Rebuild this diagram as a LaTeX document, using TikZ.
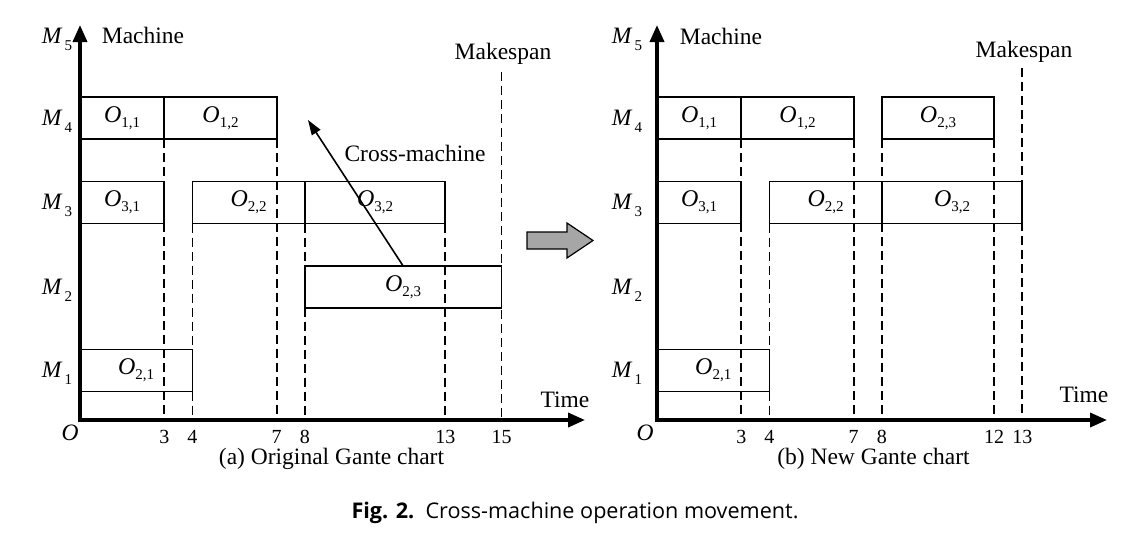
\documentclass[tikz,border=0pt]{standalone}
\usepackage{fontspec}
\setmainfont{Liberation Serif}
\newfontfamily\capfont{Open Sans}
\usetikzlibrary{arrows.meta}
\newcommand\opx[1]{\textit{O}\raisebox{-5pt}{\fontsize{15}{15}\selectfont #1}}
\newcommand\mx[1]{\textit{M}\kern2pt\raisebox{-7pt}{\fontsize{15}{15}\selectfont #1}}
\newcommand\opbx[5]{\node[opbox, minimum width={(#3-#2)*28.1pt}] (#1) at ({(#2+#3)/2*28.1}, #4) {\opx{#5}};}
\begin{document}
\begin{tikzpicture}[x=1pt,y=-1pt,
  opbox/.style={draw, line width=1.8pt, minimum height=42pt, inner sep=0pt, outer sep=0pt, font=\fontsize{24}{28}\selectfont},
  dashln/.style={line width=1.8pt, dash pattern=on 9pt off 5pt},
  axisln/.style={line width=3.6pt, {Triangle[length=17pt,width=14pt]}-{Triangle[length=17pt,width=14pt]}},
  lbl/.style={font=\fontsize{23.5}{28}\selectfont, inner sep=0pt},
  ticklbl/.style={font=\fontsize{20}{24}\selectfont, inner sep=0pt},
  movearrow/.style={line width=1.6pt, -{Triangle[length=15pt,width=10pt]}},
]
\useasboundingbox (0,0) rectangle (1126,541);

% ---------------- Left chart ----------------
\begin{scope}[xshift=80pt]
  \coordinate (LO) at (0,420);
  \coordinate (LY) at (0,25);
  \coordinate (LX) at (505,420);
  \foreach \t in {3,4,7,8,13,15} {
    \coordinate (Lt\t) at ({\t*28.1},420);
    \node[ticklbl] (Ltl\t) at ({\t*28.1},437) {\t};
  }
  \coordinate (Lms) at ({15*28.1},72);

  \opbx{L11}{0}{3}{118}{1,1}
  \opbx{L12}{3}{7}{118}{1,2}
  \opbx{L31}{0}{3}{202.5}{3,1}
  \opbx{L22}{4}{8}{202.5}{2,2}
  \opbx{L32}{8}{13}{202.5}{3,2}
  \opbx{L23}{8}{15}{287}{2,3}
  \opbx{L21}{0}{4}{370.5}{2,1}

  \draw[dashln] (L11.south east) -- (Lt3);
  \draw[dashln] (L22.north west) -- (Lt4);
  \draw[dashln] (L12.south east) -- (Lt7);
  \draw[dashln] (L32.south west) -- (Lt8);
  \draw[dashln] (L32.south east) -- (Lt13);
  \draw[dashln] (Lms) -- (Lt15);

  \draw[axisln] (LY) -- (LO) -- (LX);

  \node[lbl] (LM5) at (-23,39) {\mx{5}};
  \node[lbl] (LM4) at (-23,121) {\mx{4}};
  \node[lbl] (LM3) at (-23,205) {\mx{3}};
  \node[lbl] (LM2) at (-23,290) {\mx{2}};
  \node[lbl] (LM1) at (-23,373) {\mx{1}};
  \node[lbl] (LOr) at (-10,433) {\textit{O}};
  \node[lbl] (Lmach) at (63,35) {Machine};
  \node[lbl] (Ltime) at (485,400) {Time};
  \node[lbl] (Lmk) at (423,54) {Makespan};
  \coordinate (Ltip) at (228,120);
  \draw[movearrow] (L23.north) -- (Ltip);
  \node[lbl] (Lcross) at (335,153) {Cross-machine};
  \node[lbl] (Lcap) at (251.5,459) {(a) Original Gante chart};
\end{scope}

% ---------------- Transition arrow ----------------
\draw[line width=1.2pt, fill=black!35]
  (527,232) -- (567,232) -- (567,223) -- (593,240.5) -- (567,258) -- (567,249) -- (527,249) -- cycle;

% ---------------- Right chart ----------------
\begin{scope}[xshift=657pt]
  \coordinate (RO) at (0,420);
  \coordinate (RY) at (0,25);
  \coordinate (RX) at (450,420);
  \foreach \t in {3,4,7,8,12,13} {
    \coordinate (Rt\t) at ({\t*28.1},420);
    \node[ticklbl] (Rtl\t) at ({\t*28.1},437) {\t};
  }
  \coordinate (Rms) at ({13*28.1},68);

  \opbx{R11}{0}{3}{118}{1,1}
  \opbx{R12}{3}{7}{118}{1,2}
  \opbx{R23}{8}{12}{118}{2,3}
  \opbx{R31}{0}{3}{202.5}{3,1}
  \opbx{R22}{4}{8}{202.5}{2,2}
  \opbx{R32}{8}{13}{202.5}{3,2}
  \opbx{R21}{0}{4}{370.5}{2,1}

  \draw[dashln] (R11.south east) -- (Rt3);
  \draw[dashln] (R22.north west) -- (Rt4);
  \draw[dashln] (R12.south east) -- (Rt7);
  \draw[dashln] (R23.south west) -- (Rt8);
  \draw[dashln] (R23.south east) -- (Rt12);
  \draw[dashln] (Rms) -- (Rt13);

  \draw[axisln] (RY) -- (RO) -- (RX);

  \node[lbl] (RM5) at (-30,39) {\mx{5}};
  \node[lbl] (RM4) at (-30,121) {\mx{4}};
  \node[lbl] (RM3) at (-30,205) {\mx{3}};
  \node[lbl] (RM2) at (-30,290) {\mx{2}};
  \node[lbl] (RM1) at (-30,373) {\mx{1}};
  \node[lbl] (ROr) at (-12,433) {\textit{O}};
  \node[lbl] (Rmach) at (64,36) {Machine};
  \node[lbl] (Rtime) at (427,395) {Time};
  \node[lbl] (Rmk) at (367,52) {Makespan};
  \node[lbl] (Rcap) at (216.5,459) {(b) New Gante chart};
\end{scope}

\node[inner sep=0pt, font=\capfont\fontsize{21.6}{26}\selectfont] (fig) at (575,513)
  {\textbf{Fig. 2.}\ \ Cross-machine operation movement.};
\end{tikzpicture}
\end{document}
